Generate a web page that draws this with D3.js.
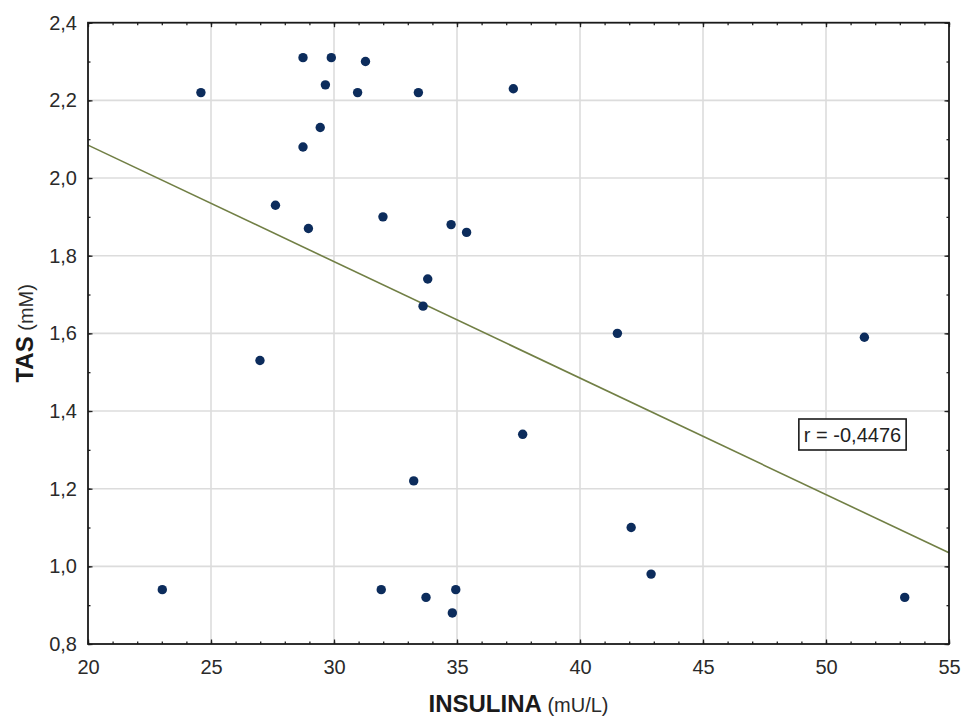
<!DOCTYPE html>
<html>
<head>
<meta charset="utf-8">
<script src="https://cdn.jsdelivr.net/npm/d3@7/dist/d3.min.js"></script>
<style>
  html, body { margin: 0; padding: 0; background: #fff; }
  svg { display: block; font-family: "Liberation Sans", Arial, sans-serif; }
  .tick text { fill: #2a2a2a; }
</style>
</head>
<body>
<svg id="chart" width="964" height="719"></svg>
<script>
// Insulin (mU/L) against total antioxidant status (mM), one entry per subject
const insulina = [24.59, 28.74, 29.89, 29.65, 29.44, 28.74, 27.62, 28.96, 31.28, 30.96,
                  33.43, 37.29, 31.99, 34.76, 35.39, 26.99, 33.81, 33.62, 41.52, 37.67,
                  51.56, 23.02, 33.24, 42.08, 31.92, 33.74, 34.95, 34.81, 42.89, 53.20];
const tas      = [2.22, 2.31, 2.31, 2.24, 2.13, 2.08, 1.93, 1.87, 2.30, 2.22,
                  2.22, 2.23, 1.90, 1.88, 1.86, 1.53, 1.74, 1.67, 1.60, 1.34,
                  1.59, 0.94, 1.22, 1.10, 0.94, 0.92, 0.94, 0.88, 0.98, 0.92];

const xTicks = [20, 25, 30, 35, 40, 45, 50, 55];
const yTicks = [0.8, 1.0, 1.2, 1.4, 1.6, 1.8, 2.0, 2.2, 2.4];
const xMinorTicks = d3.range(20, 55.001, 1);
const yMinorTicks = d3.range(8, 24.001, 1).map(d => d / 10);
const corrLabel = "r = -0,4476";

const svg = d3.select("#chart");
const m = { left: 88, right: 949, top: 22.7, bottom: 644 };

const x = d3.scaleLinear().domain([20, 55]).range([m.left, m.right]);
const y = d3.scaleLinear().domain([0.8, 2.4]).range([m.bottom, m.top]);

const pl = d3.formatLocale({ decimal: ",", thousands: ".", grouping: [3], currency: ["", ""] });
const fmtY = pl.format(".1f");

// grid
svg.append("g").selectAll("line").data(xTicks.slice(1, -1)).join("line")
  .attr("x1", d => x(d)).attr("x2", d => x(d))
  .attr("y1", m.top).attr("y2", m.bottom)
  .attr("stroke", "#dcdcdc").attr("stroke-width", 1.6);
svg.append("g").selectAll("line").data(yTicks.slice(1, -1)).join("line")
  .attr("x1", m.left).attr("x2", m.right)
  .attr("y1", d => y(d)).attr("y2", d => y(d))
  .attr("stroke", "#dcdcdc").attr("stroke-width", 1.6);

// regression line (least squares)
const mx = d3.mean(insulina), my = d3.mean(tas);
let sxy = 0, sxx = 0;
insulina.forEach((v, i) => { sxy += (v - mx) * (tas[i] - my); sxx += (v - mx) * (v - mx); });
const slope = sxy / sxx, icpt = my - slope * mx;
const [x0, x1] = x.domain();
svg.append("line")
  .attr("x1", x(x0)).attr("y1", y(icpt + slope * x0))
  .attr("x2", x(x1)).attr("y2", y(icpt + slope * x1))
  .attr("stroke", "#717f45").attr("stroke-width", 1.6);

// points
svg.append("g").selectAll("circle").data(insulina).join("circle")
  .attr("cx", d => x(d)).attr("cy", (d, i) => y(tas[i]))
  .attr("r", 4.7).attr("fill", "#0c2c5c");

// axes with inward ticks
function styleAxis(g) {
  g.select(".domain").remove();
  g.selectAll(".tick line").attr("stroke", "#222").attr("stroke-width", 1.3);
  g.selectAll(".tick text").attr("font-size", 20);
}
svg.append("g").attr("transform", `translate(0,${m.bottom})`)
  .call(d3.axisBottom(x).tickValues(xTicks).tickFormat(d3.format("d")).tickSizeInner(-4.5).tickSizeOuter(0).tickPadding(16))
  .call(styleAxis);
svg.append("g").attr("transform", `translate(0,${m.bottom})`)
  .call(d3.axisBottom(x).tickValues(xMinorTicks).tickFormat("").tickSizeInner(-2.5).tickSizeOuter(0))
  .call(styleAxis);
svg.append("g").attr("transform", `translate(0,${m.top})`)
  .call(d3.axisTop(x).tickValues(xTicks).tickFormat("").tickSizeInner(-4.5).tickSizeOuter(0))
  .call(styleAxis);
svg.append("g").attr("transform", `translate(0,${m.top})`)
  .call(d3.axisTop(x).tickValues(xMinorTicks).tickFormat("").tickSizeInner(-2.5).tickSizeOuter(0))
  .call(styleAxis);
svg.append("g").attr("transform", `translate(${m.left},0)`)
  .call(d3.axisLeft(y).tickValues(yTicks).tickFormat(fmtY).tickSizeInner(-4.5).tickSizeOuter(0).tickPadding(11))
  .call(styleAxis);
svg.append("g").attr("transform", `translate(${m.left},0)`)
  .call(d3.axisLeft(y).tickValues(yMinorTicks).tickFormat("").tickSizeInner(-2.5).tickSizeOuter(0))
  .call(styleAxis);
svg.append("g").attr("transform", `translate(${m.right},0)`)
  .call(d3.axisRight(y).tickValues(yTicks).tickFormat("").tickSizeInner(-4.5).tickSizeOuter(0))
  .call(styleAxis);
svg.append("g").attr("transform", `translate(${m.right},0)`)
  .call(d3.axisRight(y).tickValues(yMinorTicks).tickFormat("").tickSizeInner(-2.5).tickSizeOuter(0))
  .call(styleAxis);

// frame
svg.append("rect")
  .attr("x", m.left).attr("y", m.top)
  .attr("width", m.right - m.left).attr("height", m.bottom - m.top)
  .attr("fill", "none").attr("stroke", "#1a1a1a").attr("stroke-width", 1.8);

// correlation label
const lbl = svg.append("g");
const lt = lbl.append("text")
  .attr("x", 852.5).attr("y", 434.5).attr("dy", "0.35em")
  .attr("text-anchor", "middle").attr("font-size", 20).attr("fill", "#222")
  .text(corrLabel);
const bb = lt.node().getBBox();
lbl.insert("rect", "text")
  .attr("x", bb.x - 5).attr("y", 419)
  .attr("width", bb.width + 10).attr("height", 31)
  .attr("fill", "#fff").attr("stroke", "#1a1a1a").attr("stroke-width", 1.6);

// axis titles
const xt = svg.append("text")
  .attr("x", (m.left + m.right) / 2).attr("y", 712)
  .attr("text-anchor", "middle").attr("fill", "#1a1a1a");
xt.append("tspan").attr("font-weight", "bold").attr("font-size", 24).text("INSULINA");
xt.append("tspan").attr("font-size", 20).attr("fill", "#2a2a2a").text(" (mU/L)");

const yt = svg.append("text")
  .attr("transform", `translate(33,${(m.top + m.bottom) / 2}) rotate(-90)`)
  .attr("text-anchor", "middle").attr("fill", "#1a1a1a");
yt.append("tspan").attr("font-weight", "bold").attr("font-size", 24).text("TAS");
yt.append("tspan").attr("font-size", 20).attr("fill", "#2a2a2a").text(" (mM)");
</script>
</body>
</html>
